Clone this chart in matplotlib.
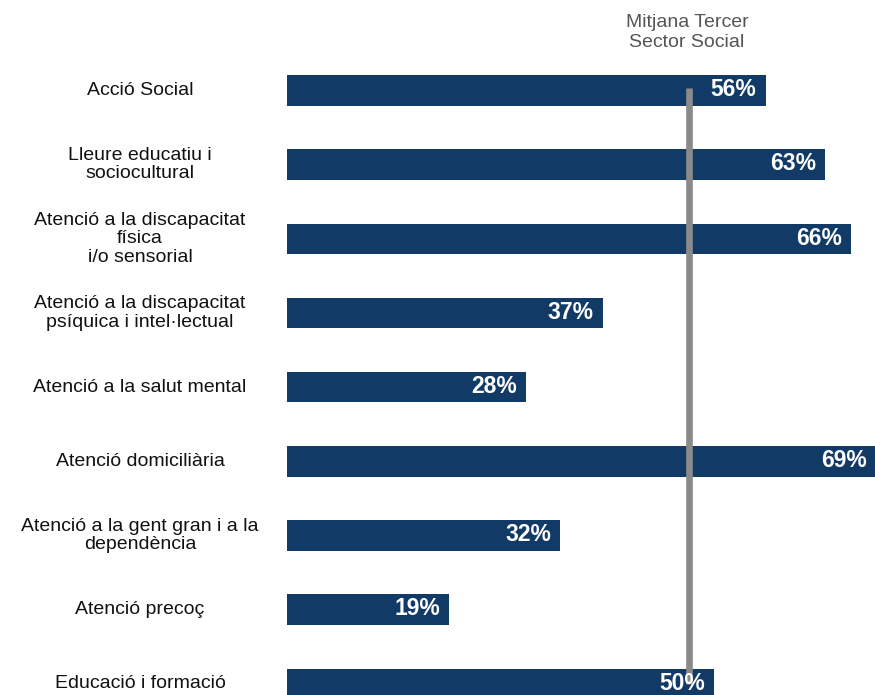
import matplotlib
matplotlib.use("Agg")
import matplotlib.pyplot as plt
from matplotlib.transforms import blended_transform_factory

# data
categories = [
    "Acció Social",
    "Lleure educatiu i\nsociocultural",
    "Atenció a la discapacitat\nfísica\ni/o sensorial",
    "Atenció a la discapacitat\npsíquica i intel·lectual",
    "Atenció a la salut mental",
    "Atenció domiciliària",
    "Atenció a la gent gran i a la\ndependència",
    "Atenció precoç",
    "Educació i formació",
]
values = [56, 63, 66, 37, 28, 69, 32, 19, 50]
average = 47
average_label = "Mitjana Tercer\nSector Social"

plt.rcParams['font.family'] = ['Liberation Sans', 'DejaVu Sans']

fig = plt.figure(figsize=(8.75, 6.95), dpi=100)
ax = fig.add_axes([287 / 875, 0, 1 - 287 / 875, 1])

ypos = list(range(len(categories)))
ax.barh(ypos, values, height=0.41, color='#123a66', zorder=1)

ax.set_xlim(0, 68.8)
ax.set_ylim(8.15, -1.22)
ax.axis('off')

# percentage labels inside the bars
for y, v in zip(ypos, values):
    ax.text(v - 1.1, y - 0.01, f"{v}%", color='white', fontsize=16.5, fontweight='bold',
            ha='right', va='center', zorder=3)

# average line
ax.plot([average, average], [ypos[0] - 0.03, ypos[-1]], color='#8a8a8a', lw=4.8,
        solid_capstyle='butt', zorder=2)
ax.text(average - 0.2, -0.78, average_label, color='#555555', fontsize=14,
        ha='center', va='center', linespacing=1.25)

# category labels on the left
trans = blended_transform_factory(fig.transFigure, ax.transData)
for y, c in zip(ypos, categories):
    ax.text(0.16, y, c, transform=trans, ha='center', va='center',
            fontsize=14, color='#111111', linespacing=1.12, clip_on=False)

fig.savefig("out.png", dpi=100, facecolor='white')
